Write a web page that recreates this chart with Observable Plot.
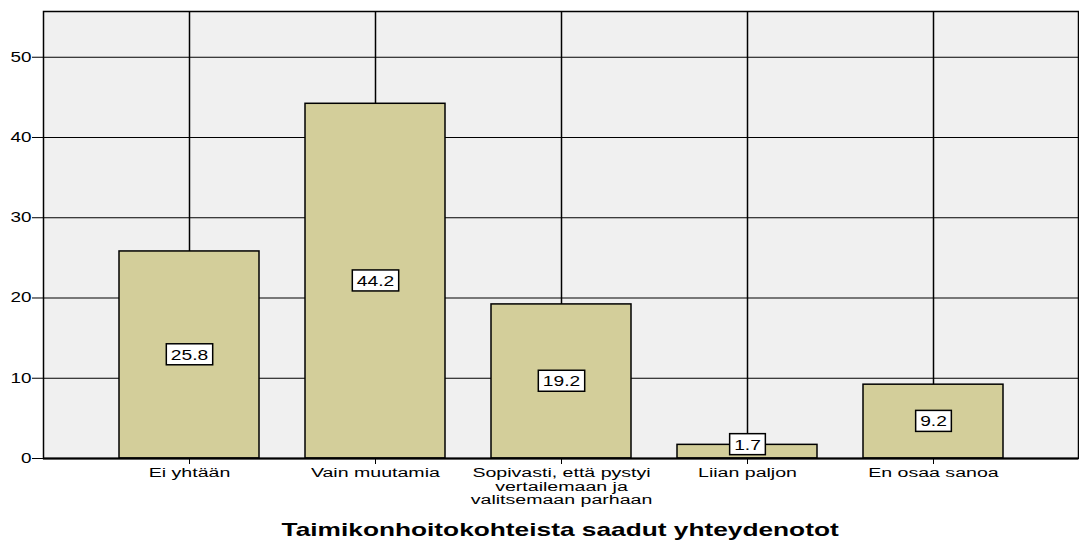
<!DOCTYPE html>
<html>
<head>
<meta charset="utf-8">
<script src="https://cdn.jsdelivr.net/npm/d3@7"></script>
<script src="https://cdn.jsdelivr.net/npm/@observablehq/plot@0.6"></script>
<style>
  html, body { margin: 0; padding: 0; background: white; }
  #titlewrap { width: 1079px; padding-left: 42px; box-sizing: border-box; text-align: center; margin-top: 7px; }
  #title { display: inline-block; font-family: "Liberation Sans", Arial, sans-serif; font-weight: bold; font-size: 18.5px; line-height: 22px; color: black; transform: scaleX(1.42); transform-origin: center; }
</style>
</head>
<body>
<div id="chart"></div>
<div id="titlewrap"><span id="title">Taimikonhoitokohteista saadut yhteydenotot</span></div>
<script>
const categories = ["Ei yhtään", "Vain muutamia", "Sopivasti, että pystyi\nvertailemaan ja\nvalitsemaan parhaan", "Liian paljon", "En osaa sanoa"];
const values = [25.8, 44.2, 19.2, 1.7, 9.2];
const yTicks = [0, 10, 20, 30, 40, 50];
const gridValues = [10, 20, 30, 40, 50];

const data = categories.map((c, i) => ({cat: c, value: values[i]}));

const chart = Plot.plot({
  width: 1079,
  height: 512,
  marginLeft: 43,
  marginRight: 1,
  marginTop: 11,
  marginBottom: 54,
  style: {fontFamily: "'Liberation Sans', Arial, sans-serif", background: "white", color: "black"},
  x: {domain: categories, paddingInner: 0.25, paddingOuter: 0.4, label: null, tickSize: 6, tickPadding: 3},
  y: {domain: [0, 55.7], label: null, ticks: yTicks, tickSize: 11, tickPadding: 1},
  marks: [
    Plot.frame({fill: "#f0f0f0"}),
    Plot.ruleY(gridValues, {stroke: "black", strokeWidth: 1.2}),
    Plot.ruleX(categories, {x: d => d, stroke: "black", strokeWidth: 1.5}),
    Plot.barY(data, {x: "cat", y: "value", fill: "#d3ce9a", stroke: "black", strokeWidth: 1.5}),
    Plot.frame({stroke: "black", strokeWidth: 1.5}),
    Plot.ruleY([0], {stroke: "black", strokeWidth: 2}),
    Plot.text(data, {x: "cat", y: d => Math.max(d.value / 2, 1.7), text: d => d.value.toFixed(1), fontSize: 15, fill: "black"})
  ]
});
document.getElementById("chart").appendChild(chart);

const svg = chart.tagName.toLowerCase() === "svg" ? chart : chart.querySelector("svg");
svg.querySelectorAll('g[aria-label="y-axis tick label"], g[aria-label="y-axis"]').forEach(g => g.setAttribute("font-size", 14));
svg.querySelectorAll('g[aria-label="x-axis tick label"], g[aria-label="x-axis"]').forEach(g => g.setAttribute("font-size", 13.5));

// horizontally stretch text (reference glyphs are wide)
function stretch(t, s, anchor) {
  const b = t.getBBox();
  const cx = anchor === "end" ? b.x + b.width : b.x + b.width / 2;
  const tr = t.getAttribute("transform") || "";
  t.setAttribute("transform", `${tr} translate(${cx},0) scale(${s},1) translate(${-cx},0)`);
  return {b, cx};
}
svg.querySelectorAll('g[aria-label="x-axis tick label"] text, g[aria-label="x-axis"] text').forEach(t => stretch(t, 1.45, "middle"));
svg.querySelectorAll('g[aria-label="y-axis tick label"] text, g[aria-label="y-axis"] text').forEach(t => stretch(t, 1.35, "end"));

// white boxes behind value labels
svg.querySelectorAll('g[aria-label="text"] text').forEach(t => {
  const tr = t.getAttribute("transform") || "";
  const s = 1.28;
  const {b, cx} = stretch(t, s, "middle");
  const w = b.width * s, padX = 4.5, padY = 2;
  const r = document.createElementNS("http://www.w3.org/2000/svg", "rect");
  r.setAttribute("x", cx - w / 2 - padX);
  r.setAttribute("y", b.y - padY);
  r.setAttribute("width", w + 2 * padX);
  r.setAttribute("height", b.height + 2 * padY);
  r.setAttribute("fill", "white");
  r.setAttribute("stroke", "black");
  r.setAttribute("stroke-width", 1.5);
  if (tr) r.setAttribute("transform", tr);
  t.parentNode.insertBefore(r, t);
});
</script>
</body>
</html>
